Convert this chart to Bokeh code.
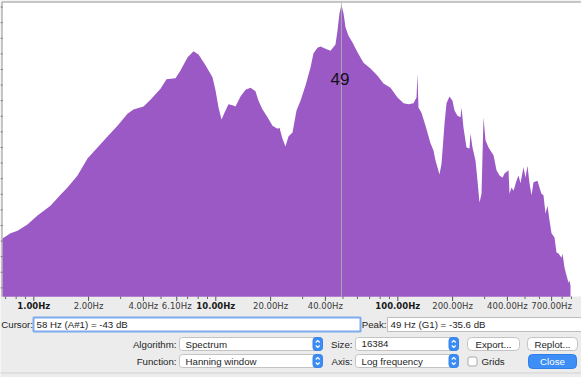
from bokeh.plotting import figure
from bokeh.models import Range1d, LinearScale, BoxAnnotation
from bokeh.embed import file_html
from bokeh.resources import INLINE
from bokeh.core.properties import value

# ---------------- data ----------------
freq_hz = [0.673, 0.745, 0.814, 0.923, 1.048, 1.235, 1.402, 1.532, 1.739, 1.973,
           2.239, 2.541, 2.884, 3.272, 3.530, 4.006, 4.377, 4.969, 5.359, 6.006,
           6.397, 6.990, 7.542, 8.035, 8.778, 9.592, 9.963, 10.35, 10.75, 11.16,
           11.74, 12.36, 12.83, 13.67, 14.57, 15.51, 16.52, 17.16, 18.06, 19.24,
           20.49, 21.83, 22.39, 23.25, 24.15, 25.08, 26.39, 27.76, 29.20, 31.11,
           33.14, 34.42, 36.22, 37.61, 40.07, 42.67, 45.47, 46.63, 47.83, 49.0,
           50.31, 51.60, 53.59, 56.38, 60.05, 64.79, 70.79, 77.36, 83.44, 91.18,
           99.63, 107.5, 114.5, 122.0, 126.7, 128.3, 129.9, 134.9, 142.0, 151.2,
           157.1, 161.1, 169.5, 173.9, 178.3, 180.6, 185.2, 192.3, 199.8, 204.9,
           212.8, 221.1, 223.9, 229.6, 238.5, 247.7, 250.8, 257.2, 267.2, 274.1,
           281.1, 288.4, 295.8, 303.3, 315.1, 327.3, 335.7, 348.7, 362.2, 376.2,
           385.8, 405.8, 411.0, 421.5, 432.3, 449.0, 460.5, 472.3, 490.6, 503.1,
           516.0, 529.2, 542.8, 556.7, 585.6, 600.5, 615.9, 631.6, 647.9, 664.5,
           681.5, 699.0, 726.1, 744.7, 763.8, 793.4, 803.4, 824.0, 845.2, 866.9,
           877.9, 889.0]

level_db = [-80.5, -79.5, -79.0, -77.8, -76.1, -74.2, -72.1, -70.7, -68.4, -65.1,
            -63.0, -60.9, -58.8, -56.5, -55.7, -55.1, -53.8, -51.7, -49.9, -49.7,
            -48.2, -45.7, -44.5, -45.1, -47.2, -49.5, -52.0, -55.3, -57.6, -56.3,
            -54.7, -54.9, -55.1, -53.2, -51.9, -51.5, -52.2, -54.0, -55.7, -57.2,
            -58.8, -59.4, -59.2, -61.3, -62.8, -60.9, -60.1, -55.9, -54.0, -51.1,
            -47.6, -44.9, -43.8, -43.6, -44.0, -44.4, -43.2, -40.5, -37.2, -35.6,
            -37.2, -39.9, -41.5, -42.8, -44.7, -46.7, -47.8, -49.2, -50.7, -51.5,
            -53.4, -54.5, -54.7, -54.5, -53.4, -48.8, -55.3, -56.3, -58.8, -62.2,
            -63.6, -65.5, -68.2, -66.1, -61.0, -58.4, -54.5, -53.2, -54.0, -55.9,
            -56.9, -57.2, -55.3, -59.2, -63.0, -63.2, -60.3, -63.0, -65.5, -69.4,
            -73.6, -71.9, -57.2, -61.6, -63.0, -63.9, -64.5, -67.4, -68.4, -68.8,
            -68.0, -67.4, -71.9, -70.7, -71.3, -69.4, -68.4, -69.9, -66.8, -68.8,
            -66.5, -69.9, -72.2, -69.7, -69.4, -70.7, -71.9, -72.2, -75.7, -74.2,
            -77.0, -79.5, -80.3, -83.2, -83.4, -84.2, -83.4, -86.1, -87.6, -89.0,
            -88.6, -89.6]

floor_db = -91.7

peak_hz = 49
peak_note = "G1"
peak_db = -35.6
cursor_hz = 58
cursor_note = "A#1"
cursor_db = -43

major_ticks = [1, 2, 4, 6.1, 10, 20, 40, 100, 200, 400, 700]
major_labels = ["1.00Hz", "2.00Hz", "4.00Hz", "6.10Hz", "10.00Hz", "20.00Hz",
                "40.00Hz", "100.00Hz", "200.00Hz", "400.00Hz", "700.00Hz"]
bold_ticks = [1, 10, 100]
minor_ticks = [0.7, 0.8, 0.9, 3, 5, 7, 8, 9, 30, 50, 60, 70, 80, 90,
               300, 500, 600, 800, 900]
db_ticks = list(range(-36, -91, -3))

# ---------------- figure ----------------
W, H = 581, 377
PURPLE = "#9b59c5"
BG = "#ececec"
UI_FONT = value("Liberation Sans")
AX_FONT = value("DejaVu Sans")

p = figure(width=W, height=H, x_axis_type="log",
           x_range=Range1d(0.6562, 1021.7), y_range=Range1d(-107.235, -34.735),
           x_axis_location=None, y_axis_location=None,
           toolbar_location=None, output_backend="svg", min_border=0,
           background_fill_color=BG, border_fill_color=BG, outline_line_color=None)
p.grid.visible = False
p.extra_x_ranges = {"px": Range1d(0, W)}
p.extra_y_ranges = {"px": Range1d(H, 0)}
p.extra_x_scales = {"px": LinearScale()}
p.extra_y_scales = {"px": LinearScale()}


def box(l, r, t, b, fill, line=None, lw=1, radius=0):
    p.add_layout(BoxAnnotation(left=l, right=r, top=t, bottom=b,
                               x_range_name="px", y_range_name="px",
                               fill_color=fill, fill_alpha=1,
                               line_color=line, line_width=lw, line_alpha=1,
                               border_radius=radius, level="underlay"))


def label(x, y, s, align="left", color="#1e1e1e", size="9.7px", style="normal"):
    p.text(x=[x], y=[y], text=[s], x_range_name="px", y_range_name="px",
           text_align=align, text_baseline="middle", text_font=UI_FONT,
           text_font_size=size, text_color=color, text_font_style=style)


# plot area
box(2, W + 1, 2, 296, "white")

# spectrum
p.varea(x=freq_hz, y1=floor_db, y2=level_db, fill_color=PURPLE, fill_alpha=1)

# frame lines
p.segment(x0=[1.5, 1.5], y0=[1.5, 1.5], x1=[W, 1.5], y1=[1.5, 296],
          x_range_name="px", y_range_name="px", line_color="#9a9a9a", line_width=1)

# peak marker line and number
p.segment(x0=[peak_hz], x1=[peak_hz], y0=[2], y1=[296], y_range_name="px",
          line_color="#b4b4b4", line_alpha=0.85, line_width=1)
p.text(x=[peak_hz], y=[78.5], text=[str(peak_hz)], y_range_name="px",
       x_offset=-1.5, text_align="center", text_baseline="middle",
       text_font=UI_FONT, text_font_size="17px", text_color="#111111")

# y ticks (mostly clipped on the left)
p.segment(x0=0, x1=2, y0=db_ticks, y1=db_ticks, x_range_name="px",
          line_color="#6a6a6a", line_width=1)

# x ticks
p.segment(x0=major_ticks, x1=major_ticks, y0=296, y1=300.5, y_range_name="px",
          line_color="#555555", line_width=1)
p.segment(x0=minor_ticks, x1=minor_ticks, y0=296, y1=298.5, y_range_name="px",
          line_color="#666666", line_width=1)

bold_x = [t for t in major_ticks if t in bold_ticks]
bold_t = [l for t, l in zip(major_ticks, major_labels) if t in bold_ticks]
reg_x = [t for t in major_ticks if t not in bold_ticks]
reg_t = [l for t, l in zip(major_ticks, major_labels) if t not in bold_ticks]
p.text(x=reg_x, y=305.5, text=reg_t, y_range_name="px", text_align="center",
       text_baseline="middle", text_font=AX_FONT, text_font_size="8.5px",
       text_color="#3a3a3a")
p.text(x=bold_x, y=305.5, text=bold_t, y_range_name="px", text_align="center",
       text_baseline="middle", text_font=AX_FONT, text_font_size="8.5px",
       text_font_style="bold", text_color="#1a1a1a")

# ---------------- control panel ----------------
# row 1: cursor / peak read-outs
box(33, 360, 317, 331, "white", "#7eaaee", 2)
label(32.5, 324, "Cursor:", "right")
label(36, 324, f"{cursor_hz} Hz ({cursor_note}) = {cursor_db} dB")
box(387, W + 2, 317, 331, "white", "#bdbdbd", 1)
label(386, 324, "Peak:", "right")
label(390, 324, f"{peak_hz} Hz ({peak_note}) = {peak_db} dB")

# popups
popups = [(179, 322, 337, 350, "Algorithm:", "Spectrum"),
          (179, 322, 354, 367, "Function:", "Hanning window"),
          (355, 458, 337, 350, "Size:", "16384"),
          (355, 458, 354, 367, "Axis:", "Log frequency")]
chev_x, chev_y = [], []
for l, r, t, b, cap, val in popups:
    box(l, r, t, b, "white", "#c3c3c3", 1, 3)
    box(r - 9.5, r, t, b, "#3b8cf5", "#3584ee", 1, 3)
    cx, cy = r - 4.75, (t + b) / 2
    chev_x += [[cx - 2, cx, cx + 2], [cx - 2, cx, cx + 2]]
    chev_y += [[cy - 1.5, cy - 3.5, cy - 1.5], [cy + 1.5, cy + 3.5, cy + 1.5]]
    label(l - 3, cy, cap, "right")
    label(l + 6, cy, val)
p.multi_line(xs=chev_x, ys=chev_y, x_range_name="px", y_range_name="px",
             line_color="white", line_width=1.1)

# buttons
box(467, 519, 337, 350, "white", "#c3c3c3", 1, 4)
label(493, 343.5, "Export...", "center")
box(527, 577, 337, 350, "white", "#c3c3c3", 1, 4)
label(552, 343.5, "Replot...", "center")
box(528, 576, 354, 368, "#3d8ef6", "#2f7fe8", 1, 4)
label(552, 361, "Close", "center", color="white")

# checkbox
box(467.5, 476.5, 356.5, 365.5, "white", "#a9a9a9", 1, 2)
label(481, 361, "Grids")

# bottom separator
p.segment(x0=[0], x1=[W], y0=[372.5], y1=[372.5], x_range_name="px",
          y_range_name="px", line_color="#d2d2d2", line_width=1)

open("out.html", "w").write(file_html(p, INLINE))
